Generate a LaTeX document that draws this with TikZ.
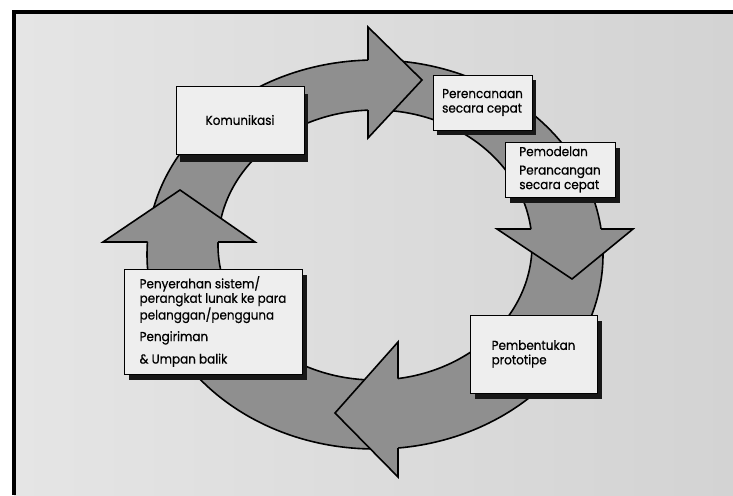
\documentclass[tikz,border=0pt]{standalone}
\usepackage{fontspec}
\setmainfont{Poppins}[FakeStretch=0.92, FakeBold=0.6]
\usetikzlibrary{shadows}

\definecolor{pagelight}{HTML}{E5E5E5}
\definecolor{pagedark}{HTML}{D3D3D3}
\definecolor{ringgray}{HTML}{8F8F8F}
\definecolor{boxfill}{HTML}{EEEEEE}
\definecolor{shadowink}{HTML}{171717}

\tikzset{
  ringedge/.style={draw=black, line width=1.6pt},
  headshape/.style={draw=black, line width=1.6pt, line join=miter},
  stagebox/.style={rectangle, draw=black, line width=1pt, fill=boxfill,
    inner sep=0pt, align=left, font=\fontsize{13}{14.5}\selectfont},
  shadowed/.style 2 args={drop shadow={opacity=1, fill=shadowink,
    shadow xshift=#1, shadow yshift=#2}},
}

\begin{document}
\begin{tikzpicture}[x=1pt, y=-1pt]
  \useasboundingbox (0,0) rectangle (733,495);

  % page and frame
  \fill[white] (0,0) rectangle (733,495);
  \shade[left color=pagelight, right color=pagedark] (14,12) rectangle (733,495);
  \fill[black] (12,10) rectangle (733,14);
  \fill[black] (12,10) rectangle (16,495);

  % the ring band
  \fill[ringgray, even odd rule]
    (375,254.5) ellipse [x radius=228, y radius=194.5]
    (375,245) ellipse [x radius=157, y radius=135];
  \draw[ringedge] (375,254.5) ellipse [x radius=228, y radius=194.5];
  \draw[ringedge] (375,245) ellipse [x radius=157, y radius=135];

  % arrow heads, open on the side where the band runs in
  \coordinate (topA) at (368,60.1);   \coordinate (topB) at (368,110.1);
  \coordinate (rgtA) at (601,229);    \coordinate (rgtB) at (531,229);
  \coordinate (botA) at (398,378.5);  \coordinate (botB) at (398,448);
  \coordinate (lftA) at (147.5,242);  \coordinate (lftB) at (218,242);

  \fill[ringgray] (topA) -- (368,27) -- (422,80) -- (368,138) -- (topB) -- cycle;
  \draw[headshape] (topA) -- (368,27) -- (422,80) -- (368,138) -- (topB);

  \fill[ringgray] (rgtA) -- (633,229) -- (572,279) -- (497,229) -- (rgtB) -- cycle;
  \draw[headshape] (rgtA) -- (633,229) -- (572,279) -- (497,229) -- (rgtB);

  \fill[ringgray] (botA) -- (398,342) -- (335,413) -- (398,477) -- (botB) -- cycle;
  \draw[headshape] (botA) -- (398,342) -- (335,413) -- (398,477) -- (botB);

  \fill[ringgray] (lftA) -- (103,242) -- (180,190) -- (255,242) -- (lftB) -- cycle;
  \draw[headshape] (lftA) -- (103,242) -- (180,190) -- (255,242) -- (lftB);

  % stage boxes
  \node[stagebox, shadowed={4pt}{-8pt}, minimum width=128pt, minimum height=68pt]
    (komunikasi) at (240,120) {Komunikasi};
  \node[stagebox, shadowed={4pt}{-5pt}, minimum width=99pt, minimum height=55pt]
    (perencanaan) at (482.5,102.5) {Perencanaan\\secara cepat};
  \node[stagebox, shadowed={5pt}{-6pt}, minimum width=110pt, minimum height=55pt]
    (pemodelan) at (560,169.5) {Pemodelan\\[4pt]Perancangan\\secara cepat};
  \node[stagebox, shadowed={5pt}{-6pt}, minimum width=127pt, minimum height=78pt]
    (pembentukan) at (533.5,354) {Pembentukan\\prototipe};
  \node[stagebox, shadowed={5pt}{-6pt}, minimum width=178pt, minimum height=105pt]
    (penyerahan) at (213,321.5)
    {Penyerahan sistem/\\perangkat lunak ke para\\pelanggan/pengguna\\[7pt]Pengiriman\\[8pt]\& Umpan balik};
\end{tikzpicture}
\end{document}
